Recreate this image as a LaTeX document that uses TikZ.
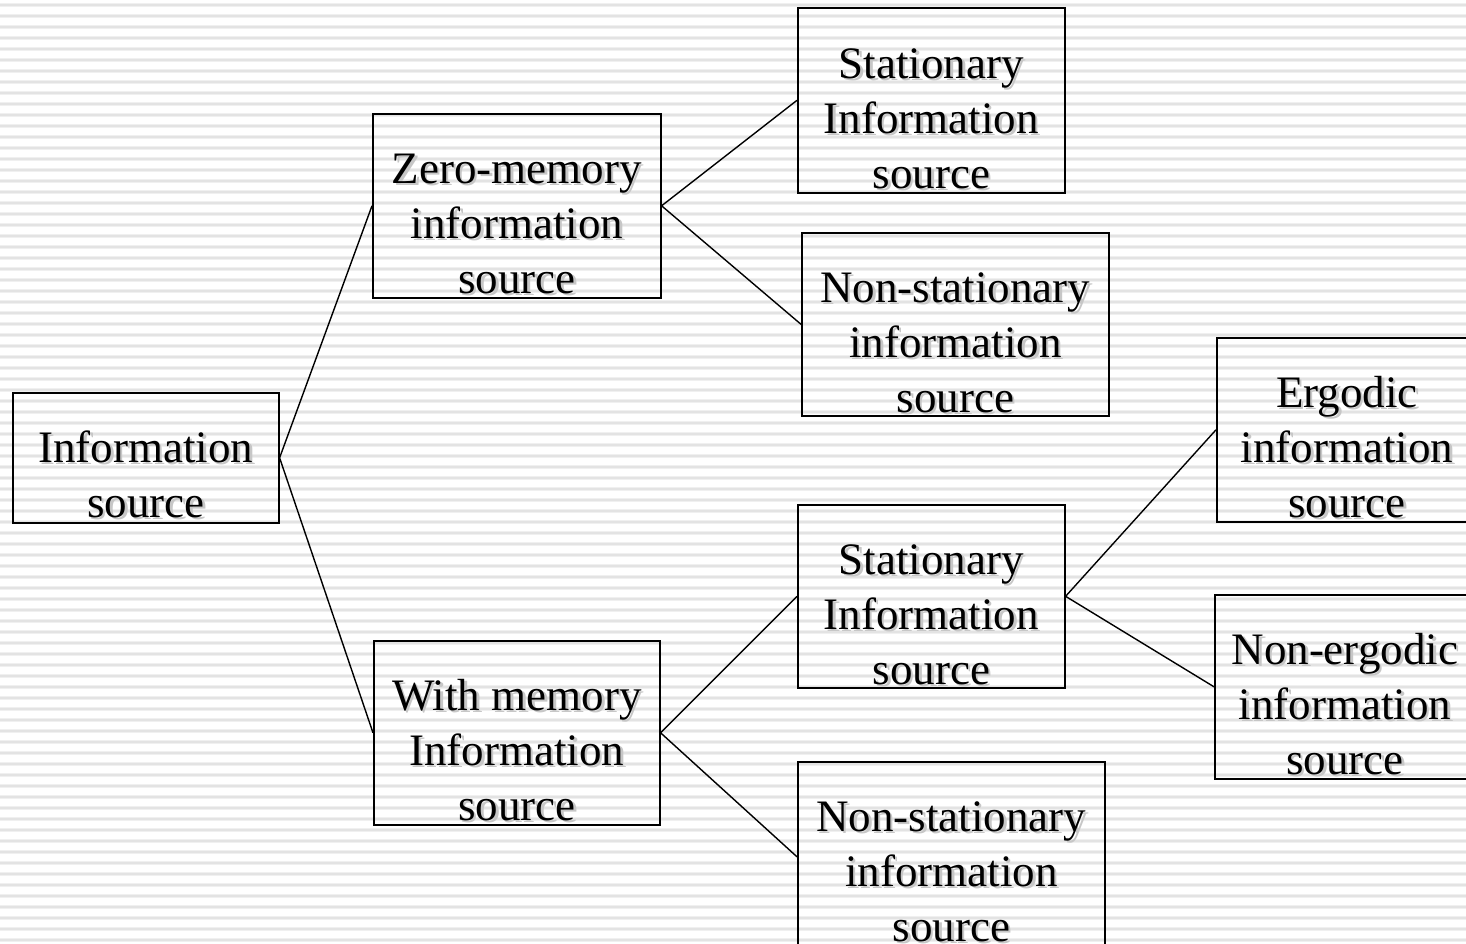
\documentclass[tikz,border=0pt]{standalone}
\usepackage{fontspec}
\setmainfont{Liberation Serif}
\begin{document}
\begin{tikzpicture}[x=1pt,y=-1pt,
  boxnode/.style={draw=black, line width=1.6pt, inner sep=0pt, anchor=north west},
  link/.style={line width=1.4pt},
  txt/.style={font=\fontsize{45}{55}\selectfont, align=center, anchor=base, inner sep=0pt},
  shade/.style={txt, text=black!22}]
% page area with a lined background
\useasboundingbox (0,0) rectangle (1466,943);
\clip (0,0) rectangle (1466,943);
\fill[white] (0,0) rectangle (1466,943);
\foreach \k in {0,...,85}{
  \draw[black!6, line width=4pt] (0,{5+11*\k}) -- (1466,{5+11*\k});
  \draw[black!11, line width=1.2pt] (0,{5+11*\k}) -- (1466,{5+11*\k});
}
% a framed box with shadowed, centred text; #7 is the depth of the last baseline
\newcommand\infobox[7]{%
  \node[boxnode, minimum width=#4pt, minimum height=#5pt] (#1) at (#2,#3) {};
  \node[shade] (#1-shadow) at ([shift={(2.5,#7+2.5)}]#1.north) {#6};
  \node[txt] (#1-text) at ([shift={(0,#7)}]#1.north) {#6};
}
\infobox{src}{12}{392}{266}{130}{Information\\source}{125}
\infobox{zero}{372}{113}{288}{184}{Zero-memory\\information\\source}{180}
\infobox{zstat}{797}{7}{267}{185}{Stationary\\Information\\source}{181}
\infobox{znon}{801}{232}{307}{183}{Non-stationary\\information\\source}{180}
\infobox{mem}{373}{640}{286}{184}{With memory\\Information\\source}{180}
\infobox{mstat}{797}{504}{267}{183}{Stationary\\Information\\source}{180}
\infobox{mnon}{797}{761}{307}{190}{Non-stationary\\information\\source}{180}
\infobox{erg}{1216}{337}{260}{184}{Ergodic\\information\\source}{180}
\infobox{nerg}{1214}{594}{260}{184}{Non-ergodic\\information\\source}{180}
% tree connectors
\draw[link] (src.east) -- (zero.west);
\draw[link] (src.east) -- (mem.west);
\draw[link] (zero.east) -- (zstat.west);
\draw[link] (zero.east) -- (znon.west);
\draw[link] (mem.east) -- (mstat.west);
\draw[link] (mem.east) -- (mnon.west);
\draw[link] (mstat.east) -- (erg.west);
\draw[link] (mstat.east) -- (nerg.west);
\end{tikzpicture}
\end{document}
